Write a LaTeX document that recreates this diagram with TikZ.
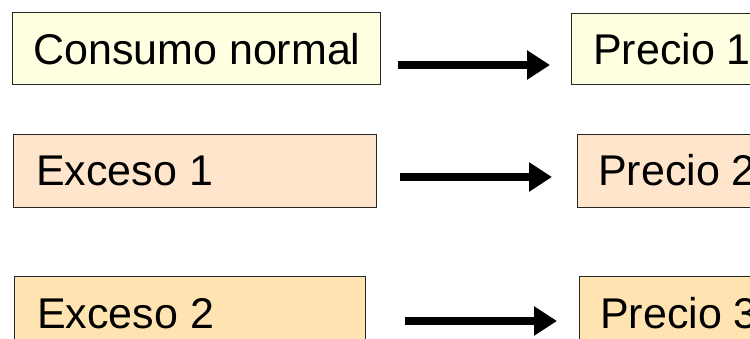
\documentclass[tikz,border=0pt]{standalone}
\usepackage{fontspec}
\setmainfont{Liberation Sans}
\usetikzlibrary{arrows.meta}
\definecolor{fillA}{HTML}{FFFFE1}
\definecolor{fillB}{HTML}{FFE5CC}
\definecolor{fillC}{HTML}{FFE4B2}
\definecolor{edgec}{HTML}{262626}
\begin{document}
\begin{tikzpicture}[x=1pt,y=1pt,
  box/.style={draw=edgec, line width=1.4pt, anchor=north west, inner sep=0pt},
  lbl/.style={anchor=base west, inner sep=0pt, font=\fontsize{43}{50}\selectfont},
  arr/.style={line width=8pt, -{Triangle[length=23pt,width=28pt]}}]
\useasboundingbox (0,0) rectangle (750,-339);
\clip (0,0) rectangle (750,-339);
% row 1
\node[box, fill=fillA, minimum width=368pt, minimum height=72pt] (c1) at (12,-12) {};
\node[lbl] (t1) at (33,-65) {Consumo normal};
\node[box, fill=fillA, minimum width=250pt, minimum height=71pt] (p1) at (571,-13) {};
\node[lbl] (q1) at (593,-65) {Precio 1};
\coordinate (s1) at (398,-65);
\coordinate (e1) at (550,-65);
\draw[arr] (s1) -- (e1);
% row 2
\node[box, fill=fillB, minimum width=363pt, minimum height=73pt] (c2) at (13,-134) {};
\node[lbl] (t2) at (36,-186) {Exceso 1};
\node[box, fill=fillB, minimum width=250pt, minimum height=73pt] (p2) at (577,-134) {};
\node[lbl] (q2) at (598,-186) {Precio 2};
\coordinate (s2) at (400,-177);
\coordinate (e2) at (552,-177);
\draw[arr] (s2) -- (e2);
% row 3
\node[box, fill=fillC, minimum width=351pt, minimum height=100pt] (c3) at (14,-276) {};
\node[lbl] (t3) at (37,-328) {Exceso 2};
\node[box, fill=fillC, minimum width=250pt, minimum height=100pt] (p3) at (579,-276) {};
\node[lbl] (q3) at (600,-328) {Precio 3};
\coordinate (s3) at (405,-321);
\coordinate (e3) at (557,-321);
\draw[arr] (s3) -- (e3);
\end{tikzpicture}
\end{document}
